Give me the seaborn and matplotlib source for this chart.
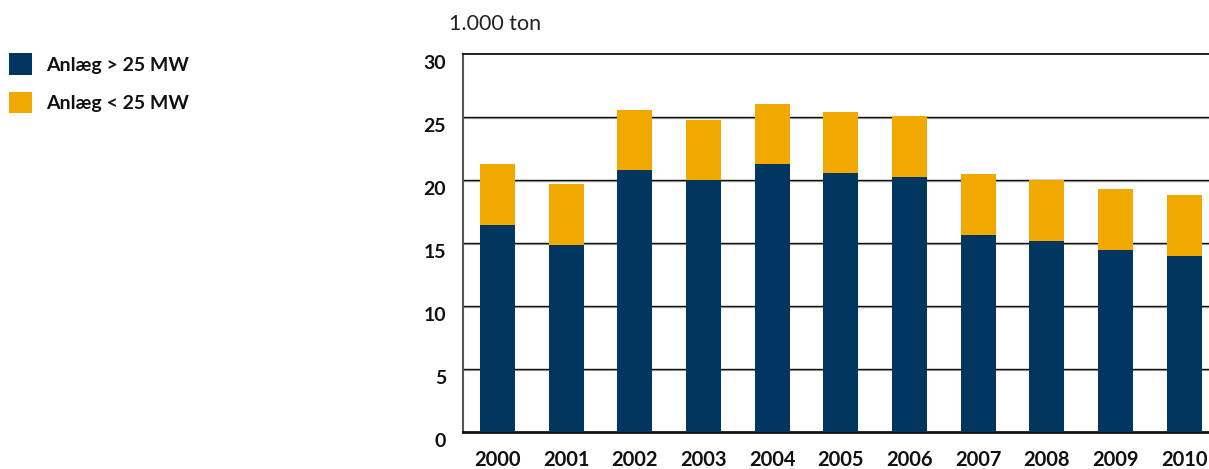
import matplotlib
matplotlib.use("Agg")
import matplotlib.pyplot as plt
import matplotlib.transforms as mtransforms
from matplotlib.patches import Patch
import seaborn as sns
import pandas as pd

# Emissions in 1.000 ton, split by plant size
years = ["2000", "2001", "2002", "2003", "2004", "2005",
         "2006", "2007", "2008", "2009", "2010"]
large_plants = [16.45, 14.9, 20.8, 20.0, 21.3, 20.6, 20.3, 15.65, 15.2, 14.5, 14.0]
small_plants = [4.85, 4.8, 4.8, 4.8, 4.75, 4.8, 4.8, 4.85, 4.8, 4.8, 4.8]
series_labels = ["Anlæg > 25 MW", "Anlæg < 25 MW"]
unit_label = "1.000 ton"
y_ticks = [0, 5, 10, 15, 20, 25, 30]

NAVY = "#00365F"
AMBER = "#F1A900"

df = pd.DataFrame({"year": years, "large": large_plants, "small": small_plants})
df["total"] = df["large"] + df["small"]

sns.set_theme(style="white")
plt.rcParams["font.family"] = ["Lato", "DejaVu Sans"]

fig = plt.figure(figsize=(12.09, 4.69), dpi=100)
ax = fig.add_axes([0.3827, 0.0782, 0.6173, 0.806])

# stacked bars: full height in amber, lower part overlaid in navy
sns.barplot(data=df, x="year", y="total", color=AMBER, width=0.51,
            saturation=1, linewidth=0, ax=ax, zorder=3)
sns.barplot(data=df, x="year", y="large", color=NAVY, width=0.51,
            saturation=1, linewidth=0, ax=ax, zorder=4)

ax.set_xlim(-0.507, 10.36)
ax.set_ylim(0, 30)
ax.set_yticks(y_ticks)
ax.set_xlabel("")
ax.set_ylabel("")

# gridlines: dark rule with a soft grey shadow just beneath it
ytrans = ax.get_yaxis_transform()
shadow = ytrans + mtransforms.ScaledTranslation(0, -0.9/100, fig.dpi_scale_trans)
for v in y_ticks[1:-1]:
    ax.plot([0, 1], [v, v], color="#a8a8a8", lw=0.9, zorder=1, transform=shadow)
    ax.plot([0, 1], [v, v], color="#111111", lw=1.0, zorder=2, transform=ytrans)

for side in ["top", "bottom", "left"]:
    ax.spines[side].set_visible(True)
ax.spines["right"].set_visible(False)
ax.spines["top"].set_color("#111111")
ax.spines["top"].set_linewidth(1.3)
ax.spines["bottom"].set_color("#111111")
ax.spines["bottom"].set_linewidth(2.0)
ax.spines["left"].set_color("#555555")
ax.spines["left"].set_linewidth(1.5)

ax.tick_params(axis="both", length=0)
ax.tick_params(axis="y", pad=12)
ax.tick_params(axis="x", pad=13)
for lbl in ax.get_yticklabels():
    lbl.set_fontsize(14)
    lbl.set_fontweight("bold")
    lbl.set_color("#111111")
    lbl.set_transform(lbl.get_transform() +
                      mtransforms.ScaledTranslation(0, -8/100, fig.dpi_scale_trans))
for lbl in ax.get_xticklabels():
    lbl.set_fontsize(14.5)
    lbl.set_fontweight("bold")
    lbl.set_color("#111111")

fig.text(449/1209, 1 - 24/469, unit_label, fontsize=15.5, color="#222222",
         ha="left", va="center")

handles = [Patch(facecolor=NAVY, edgecolor="none"),
           Patch(facecolor=AMBER, edgecolor="none")]
leg = fig.legend(handles, series_labels, loc="upper left",
                 bbox_to_anchor=(0.0, 0.905), frameon=False,
                 handlelength=1.2, handleheight=1.35, handletextpad=0.7,
                 labelspacing=0.85, borderaxespad=0.0, borderpad=0.45,
                 prop={"family": ["Lato", "DejaVu Sans"], "weight": "bold", "size": 14})
for t in leg.get_texts():
    t.set_color("#111111")

fig.savefig("out.png", dpi=100)
